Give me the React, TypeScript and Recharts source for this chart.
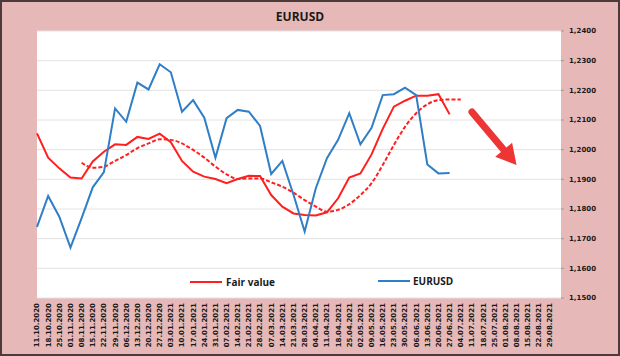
import { CartesianGrid, Line, LineChart, ReferenceLine, XAxis, YAxis } from 'recharts';

const DATES = [
  '11.10.2020', '18.10.2020', '25.10.2020', '01.11.2020', '08.11.2020', '15.11.2020',
  '22.11.2020', '29.11.2020', '06.12.2020', '13.12.2020', '20.12.2020', '27.12.2020',
  '03.01.2021', '10.01.2021', '17.01.2021', '24.01.2021', '31.01.2021', '07.02.2021',
  '14.02.2021', '21.02.2021', '28.02.2021', '07.03.2021', '14.03.2021', '21.03.2021',
  '28.03.2021', '04.04.2021', '11.04.2021', '18.04.2021', '25.04.2021', '02.05.2021',
  '09.05.2021', '16.05.2021', '23.05.2021', '30.05.2021', '06.06.2021', '13.06.2021',
  '20.06.2021', '27.06.2021', '04.07.2021', '11.07.2021', '18.07.2021', '25.07.2021',
  '01.08.2021', '08.08.2021', '15.08.2021', '22.08.2021', '29.08.2021',
];

const FAIR_VALUE = [
  1.2055, 1.1973, 1.1937, 1.1906, 1.1903, 1.196, 1.1993, 1.2018, 1.2016, 1.2043, 1.2036, 1.2054,
  1.2025, 1.1962, 1.1926, 1.1909, 1.1901, 1.1887, 1.1901, 1.1912, 1.1911, 1.1847, 1.1808,
  1.1785, 1.178, 1.1778, 1.1789, 1.1836, 1.1906, 1.192, 1.1984, 1.207, 1.2145, 1.2165, 1.2182,
  1.2182, 1.2187, 1.2119,
];

const EURUSD = [
  1.174, 1.1844, 1.1774, 1.167, 1.1769, 1.1873, 1.1924, 1.2139, 1.2094, 1.2226, 1.2203, 1.2288,
  1.2261, 1.2128, 1.2167, 1.2108, 1.1973, 1.2106, 1.2134, 1.2128, 1.208, 1.1918, 1.1962,
  1.1848, 1.1724, 1.187, 1.1971, 1.2033, 1.2123, 1.2018, 1.2074, 1.2184, 1.2187, 1.2209, 1.2184,
  1.195, 1.192, 1.1921,
];

// smoothed fair value (dashed), starts in week 5
const FAIR_TREND = [
  null, null, null, null,
  1.1956, 1.1939, 1.1943, 1.1962, 1.1982, 1.2005, 1.2021, 1.2035, 1.2033, 1.2021, 1.1999,
  1.1973, 1.1943, 1.1917, 1.1901, 1.1903, 1.1903, 1.189, 1.1875, 1.1855, 1.183, 1.1808,
  1.1791, 1.1797, 1.1816, 1.1847, 1.1887, 1.1948, 1.2016, 1.2077, 1.2123, 1.2153, 1.2167,
  1.2169, 1.2169,
];

const Y_TICKS = [1.15, 1.16, 1.17, 1.18, 1.19, 1.2, 1.21, 1.22, 1.23, 1.24];

// forecast arrow, in data units
const ARROW_FROM = { x: '11.07.2021', y: 1.2127 };
const ARROW_TO = { x: '08.08.2021', y: 1.1948 };

const RED = '#ff1f1f';
const BLUE = '#2f7ec6';
const TEXT = '#1a1a1a';

const rows = DATES.map((date, i) => ({
  date,
  fair: FAIR_VALUE[i] ?? null,
  eurusd: EURUSD[i] ?? null,
  trend: FAIR_TREND[i] ?? null,
}));

const DateTick = ({ x, y, payload }: any) => (
  <text
    x={x}
    y={y}
    dy='0.35em'
    transform={`rotate(-90 ${x} ${y})`}
    textAnchor='end'
    fontSize={7}
    fontWeight='bold'
    fill={TEXT}
    fontFamily='DejaVu Sans'
  >
    {payload.value}
  </text>
);

const Arrow = (props: any) => {
  const { x1, y1, x2, y2 } = props;
  const dx = x2 - x1;
  const dy = y2 - y1;
  const len = Math.hypot(dx, dy) || 1;
  const ux = dx / len;
  const uy = dy / len;
  const bx = x2 - ux * 20;
  const by = y2 - uy * 20;
  const px = -uy * 11;
  const py = ux * 11;
  return (
    <g>
      <line x1={x1} y1={y1} x2={bx} y2={by} stroke='#ee3535' strokeWidth={7} strokeLinecap='round' />
      <polygon points={`${x2},${y2} ${bx + px},${by + py} ${bx - px},${by - py}`} fill='#ee3535' />
    </g>
  );
};

const legendText = {
  position: 'absolute' as const,
  fontFamily: '"Open Sans", sans-serif',
  fontWeight: 700,
  fontSize: 10,
  color: TEXT,
  lineHeight: '12px',
};

export default function App() {
  return (
    <div style={{ position: 'relative', width: 620, height: 356, background: '#e6b9b8', overflow: 'hidden' }}>
      <style>{'body{margin:0}'}</style>
      <div
        style={{
          position: 'absolute',
          left: 0,
          top: 0,
          width: 620,
          height: 356,
          boxSizing: 'border-box',
          border: '2px solid #4d3a3a',
          pointerEvents: 'none',
        }}
      />
      <div
        style={{
          position: 'absolute',
          top: 10,
          left: 0,
          width: 600,
          textAlign: 'center',
          fontFamily: '"Open Sans", sans-serif',
          fontWeight: 700,
          fontSize: 12,
          color: TEXT,
          lineHeight: '14px',
        }}
      >
        EURUSD
      </div>
      <LineChart
        width={620}
        height={356}
        data={rows}
        margin={{ top: 31, right: 9, bottom: 8, left: 37 }}
        style={{ position: 'absolute', left: 0, top: 0 }}
      >
        <CartesianGrid vertical={false} stroke='#e2e2e2' fill='#ffffff' />
        <XAxis
          dataKey='date'
          interval={0}
          height={50}
          padding={{ left: 0, right: 11 }}
          tickLine={false}
          axisLine={false}
          tickSize={0}
          tickMargin={5}
          tick={<DateTick />}
        />
        <YAxis
          orientation='right'
          domain={[1.15, 1.24]}
          ticks={Y_TICKS}
          width={50}
          axisLine={false}
          tickLine={{ stroke: '#9a9a9a' }}
          tickSize={3}
          tickMargin={5}
          tickFormatter={(v: number) => v.toFixed(4).replace('.', ',')}
          tick={{ fontSize: 7, fontWeight: 'bold', fill: TEXT, fontFamily: 'DejaVu Sans', textAnchor: 'start' }}
        />
        <Line
          dataKey='trend'
          type='monotone'
          stroke={RED}
          strokeWidth={2}
          strokeDasharray='4 2'
          dot={false}
          isAnimationActive={false}
        />
        <Line dataKey='fair' type='linear' stroke={RED} strokeWidth={2} dot={false} isAnimationActive={false} />
        <Line dataKey='eurusd' type='linear' stroke={BLUE} strokeWidth={2} dot={false} isAnimationActive={false} />
        <ReferenceLine segment={[ARROW_FROM, ARROW_TO]} shape={<Arrow />} ifOverflow='visible' />
      </LineChart>
      <div style={{ position: 'absolute', left: 190, top: 281, width: 32, height: 2, background: RED }} />
      <div style={{ ...legendText, left: 226, top: 276 }}>Fair value</div>
      <div style={{ position: 'absolute', left: 378, top: 280, width: 32, height: 2, background: BLUE }} />
      <div style={{ ...legendText, left: 413, top: 275 }}>EURUSD</div>
    </div>
  );
}
